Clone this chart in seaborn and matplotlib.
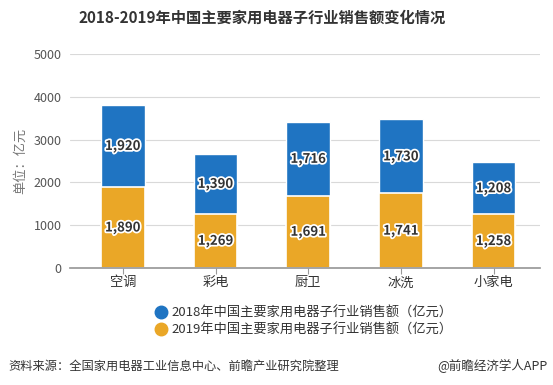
import numpy as np
import pandas as pd
import seaborn as sns
import matplotlib.pyplot as plt
import matplotlib.patheffects as pe
from matplotlib.lines import Line2D

categories = ["空调", "彩电", "厨卫", "冰洗", "小家电"]
sales_2018 = [1920, 1390, 1716, 1730, 1208]
sales_2019 = [1890, 1269, 1691, 1741, 1258]
y_ticks = [0, 1000, 2000, 3000, 4000, 5000]

blue = "#1f74c2"
orange = "#eaa727"

sns.set_theme(style="white")
plt.rcParams["font.family"] = ["Noto Sans CJK SC", "DejaVu Sans"]

df = pd.DataFrame({"cat": categories, "y2018": sales_2018, "y2019": sales_2019})
df["total"] = df["y2018"] + df["y2019"]

fig = plt.figure(figsize=(5.53, 3.85), dpi=100)
ax = fig.add_axes([70 / 553, 1 - 268 / 385, 470 / 553, 214 / 385])

# stacked: total in blue, 2019 drawn over it in orange
sns.barplot(data=df, x="cat", y="total", color=blue, width=0.47, saturation=1, ax=ax)
sns.barplot(data=df, x="cat", y="y2019", color=orange, width=0.47, saturation=1,
            edgecolor="white", linewidth=1.2, ax=ax)

stroke = [pe.withStroke(linewidth=2.5, foreground="white")]
for i in range(len(categories)):
    ax.text(i, sales_2019[i] / 2, f"{sales_2019[i]:,}", ha="center", va="center",
            fontsize=9.5, fontweight="bold", color="#333333", path_effects=stroke)
    ax.text(i, sales_2019[i] + sales_2018[i] / 2, f"{sales_2018[i]:,}", ha="center",
            va="center", fontsize=9.5, fontweight="bold", color="#333333", path_effects=stroke)

ax.set_xlim(-0.57, 4.5)
ax.set_ylim(0, 5000)
ax.set_yticks(y_ticks)
ax.yaxis.grid(True, color="#d9d9d9", linewidth=0.8)
ax.set_axisbelow(True)
for s in ["left", "right", "top"]:
    ax.spines[s].set_visible(False)
ax.spines["bottom"].set_color("#999999")
ax.tick_params(axis="y", labelsize=9, colors="#555555", length=0, pad=6)
ax.tick_params(axis="x", labelsize=9.5, colors="#333333", length=4, width=0.8,
               direction="out", bottom=True, pad=2)
ax.tick_params(axis="x", color="#999999")
ax.set_xlabel("")
ax.set_ylabel("单位：亿元", fontsize=9.5, color="#777777", labelpad=4)
ax.yaxis.set_label_coords(-0.092, 0.5)

fig.text(262 / 553, 1 - 18 / 385, "2018-2019年中国主要家用电器子行业销售额变化情况",
         ha="center", va="center", fontsize=11, fontweight="bold", color="#333333")

handles = [
    Line2D([], [], marker="o", linestyle="", markersize=9, color=blue),
    Line2D([], [], marker="o", linestyle="", markersize=9, color=orange),
]
labels = ["2018年中国主要家用电器子行业销售额（亿元）", "2019年中国主要家用电器子行业销售额（亿元）"]
fig.legend(handles, labels, loc="center left", bbox_to_anchor=(148 / 553, 1 - 322 / 385),
           frameon=False, fontsize=9.5, handletextpad=0.2, labelspacing=0.3,
           borderaxespad=0, handlelength=1.2, labelcolor="#333333")

fig.text(8 / 553, 1 - 366 / 385, "资料来源：全国家用电器工业信息中心、前瞻产业研究院整理",
         ha="left", va="center", fontsize=8.8, color="#333333")
fig.text(548 / 553, 1 - 366 / 385, "@前瞻经济学人APP", ha="right", va="center",
         fontsize=9, color="#333333")

fig.savefig("out.png", dpi=100)
